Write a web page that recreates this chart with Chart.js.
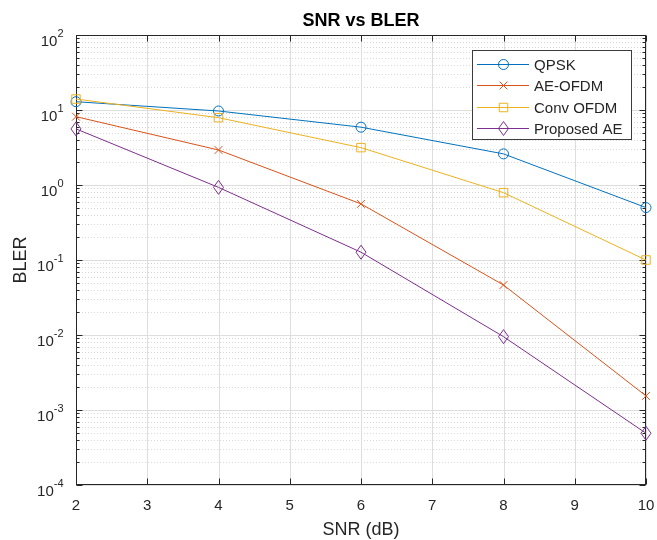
<!DOCTYPE html>
<html>
<head>
<meta charset="utf-8">
<title>SNR vs BLER</title>
<script src="https://cdn.jsdelivr.net/npm/chart.js@4.4.0/dist/chart.umd.min.js"></script>
<style>
  html, body { margin: 0; padding: 0; background: #fff; }
  #wrap { width: 657px; height: 540px; }
</style>
</head>
<body>
<div id="wrap"><canvas id="bler-chart" width="657" height="540"></canvas></div>
<script>
const snr = [2, 4, 6, 8, 10];
const qpsk = [12.9, 9.7, 5.9, 2.6, 0.50];
const aeOfdm = [8.15, 2.93, 0.56, 0.0464, 0.00154];
const convOfdm = [14.0, 7.9, 3.15, 0.79, 0.10];
const proposedAe = [5.6, 0.93, 0.127, 0.0095, 0.00049];

const xTicks = [2, 3, 4, 5, 6, 7, 8, 9, 10];
const yExponents = [-4, -3, -2, -1, 0, 1, 2];

const FONT = 'Arial, "Liberation Sans", Helvetica, sans-serif';
const AXIS_COLOR = '#262626';

// open diamond, taller than wide, drawn as a path so it stays sharp
function drawDiamond(ctx, x, y, color) {
  ctx.save();
  ctx.strokeStyle = color;
  ctx.lineWidth = 1;
  ctx.beginPath();
  ctx.moveTo(x, y - 7);
  ctx.lineTo(x + 5, y);
  ctx.lineTo(x, y + 7);
  ctx.lineTo(x - 5, y);
  ctx.closePath();
  ctx.stroke();
  ctx.restore();
}

function series(label, values, color, pointStyle, radius, order) {
  return {
    label,
    data: snr.map((x, i) => ({ x, y: values[i] })),
    borderColor: color,
    borderWidth: 1,
    pointStyle,
    pointRadius: radius,
    pointBorderColor: color,
    pointBackgroundColor: 'rgba(0,0,0,0)',
    pointBorderWidth: 1,
    tension: 0,
    clip: false,
    order
  };
}

function crisp(v) {
  return Math.round(v) + 0.5;
}

function drawMarker(ctx, ds, x, y) {
  if (ds.pointStyle === 'diamond') {
    drawDiamond(ctx, x, y, ds.borderColor);
    return;
  }
  ctx.save();
  ctx.strokeStyle = ds.borderColor;
  ctx.fillStyle = 'rgba(0,0,0,0)';
  ctx.lineWidth = 1;
  Chart.helpers.drawPoint(ctx, {
    pointStyle: ds.pointStyle,
    radius: ds.pointRadius,
    borderWidth: 1,
    rotation: 0
  }, x, y);
  ctx.restore();
}

const matlabAxes = {
  id: 'matlabAxes',
  beforeDatasetsDraw(chart) {
    const { ctx, chartArea: a } = chart;
    const xs = chart.scales.x;
    const ys = chart.scales.y;
    ctx.save();
    ctx.lineWidth = 1;

    // minor grid on the log axis
    ctx.strokeStyle = '#d6d6d6';
    ctx.setLineDash([1, 2]);
    for (let e = yExponents[0]; e < yExponents[yExponents.length - 1]; e++) {
      for (let m = 2; m <= 9; m++) {
        const y = crisp(ys.getPixelForValue(m * Math.pow(10, e)));
        ctx.beginPath();
        ctx.moveTo(a.left, y);
        ctx.lineTo(a.right, y);
        ctx.stroke();
      }
    }
    ctx.setLineDash([]);

    // major grid
    ctx.strokeStyle = '#dedede';
    yExponents.forEach(e => {
      const y = crisp(ys.getPixelForValue(Math.pow(10, e)));
      ctx.beginPath();
      ctx.moveTo(a.left, y);
      ctx.lineTo(a.right, y);
      ctx.stroke();
    });
    xTicks.forEach(t => {
      const x = crisp(xs.getPixelForValue(t));
      ctx.beginPath();
      ctx.moveTo(x, a.top);
      ctx.lineTo(x, a.bottom);
      ctx.stroke();
    });

    // box and ticks
    ctx.strokeStyle = AXIS_COLOR;
    const l = crisp(a.left), r = crisp(a.right) - 1, t = crisp(a.top), b = crisp(a.bottom) - 1;
    ctx.strokeRect(l, t, r - l, b - t);
    ctx.beginPath();
    xTicks.forEach(v => {
      const x = crisp(xs.getPixelForValue(v));
      ctx.moveTo(x, b); ctx.lineTo(x, b - 6);
      ctx.moveTo(x, t); ctx.lineTo(x, t + 6);
    });
    yExponents.forEach(e => {
      const y = crisp(ys.getPixelForValue(Math.pow(10, e)));
      ctx.moveTo(l, y); ctx.lineTo(l + 6, y);
      ctx.moveTo(r, y); ctx.lineTo(r - 6, y);
      if (e === yExponents[yExponents.length - 1]) return;
      for (let m = 2; m <= 9; m++) {
        const ym = crisp(ys.getPixelForValue(m * Math.pow(10, e)));
        ctx.moveTo(l, ym); ctx.lineTo(l + 3, ym);
        ctx.moveTo(r, ym); ctx.lineTo(r - 3, ym);
      }
    });
    ctx.stroke();
    ctx.restore();
  },
  afterDatasetsDraw(chart) {
    // diamond markers placed on the points the line controller laid out
    chart.data.datasets.forEach((ds, i) => {
      if (ds.pointStyle !== 'diamond') return;
      chart.getDatasetMeta(i).data.forEach(pt => drawDiamond(chart.ctx, pt.x, pt.y, ds.borderColor));
    });
  },
  afterDraw(chart) {
    const { ctx, chartArea: a } = chart;
    const xs = chart.scales.x;
    const ys = chart.scales.y;
    ctx.save();
    ctx.fillStyle = AXIS_COLOR;

    // x tick labels
    ctx.font = '15px ' + FONT;
    ctx.textAlign = 'center';
    ctx.textBaseline = 'alphabetic';
    xTicks.forEach(v => {
      ctx.fillText(String(v), xs.getPixelForValue(v), a.bottom + 25);
    });

    // y tick labels as 10 with a raised exponent
    const right = a.left - 12.5;
    yExponents.forEach(e => {
      const y = ys.getPixelForValue(Math.pow(10, e));
      const exp = String(e);
      ctx.font = '11px ' + FONT;
      const ew = ctx.measureText(exp).width;
      ctx.textAlign = 'left';
      ctx.fillText(exp, right - ew, y + 2);
      ctx.font = '15px ' + FONT;
      ctx.textAlign = 'right';
      ctx.fillText('10', right - ew, y + 10.5);
    });

    // axis labels and title
    const cx = (a.left + a.right) / 2;
    ctx.textAlign = 'center';
    ctx.font = '18px ' + FONT;
    ctx.fillText('SNR (dB)', cx, 535);
    ctx.save();
    ctx.translate(26, (a.top + a.bottom) / 2);
    ctx.rotate(-Math.PI / 2);
    ctx.fillText('BLER', 0, 0);
    ctx.restore();
    ctx.fillStyle = '#000';
    ctx.font = 'bold 18px ' + FONT;
    ctx.fillText('SNR vs BLER', cx, 26);

    // legend box
    const box = { x: 472.5, y: 50.5, w: 159, h: 89 };
    ctx.fillStyle = '#fff';
    ctx.fillRect(box.x, box.y, box.w, box.h);
    ctx.strokeStyle = '#3c3c3c';
    ctx.lineWidth = 1;
    ctx.strokeRect(box.x, box.y, box.w, box.h);
    ctx.font = '15px ' + FONT;
    ctx.textAlign = 'left';
    ctx.textBaseline = 'middle';
    const rowY = [64.5, 85.5, 107.5, 128.5];
    chart.data.datasets.forEach((ds, i) => {
      const y = rowY[i];
      ctx.strokeStyle = ds.borderColor;
      ctx.beginPath();
      ctx.moveTo(477, y);
      ctx.lineTo(529, y);
      ctx.stroke();
      drawMarker(ctx, ds, 503.5, y);
      ctx.fillStyle = AXIS_COLOR;
      ctx.fillText(ds.label, 534, y + 1);
    });
    ctx.restore();
  }
};

const chart = new Chart(document.getElementById('bler-chart').getContext('2d'), {
  type: 'line',
  data: {
    datasets: [
      series('QPSK', qpsk, '#0072BD', 'circle', 5, 4),
      series('AE-OFDM', aeOfdm, '#D95319', 'crossRot', 5.5, 3),
      series('Conv OFDM', convOfdm, '#EDB120', 'rect', 6, 2),
      // radius 0: the diamonds are stroked by the plugin above
      series('Proposed AE', proposedAe, '#7E2F8E', 'diamond', 0, 1)
    ]
  },
  options: {
    responsive: false,
    animation: false,
    layout: { padding: { left: 76, right: 11, top: 35, bottom: 55 } },
    plugins: {
      legend: { display: false },
      title: { display: false },
      tooltip: { enabled: false }
    },
    scales: {
      x: { type: 'linear', min: 2, max: 10, display: false },
      y: { type: 'logarithmic', min: 1e-4, max: 100, display: false }
    }
  },
  plugins: [matlabAxes]
});
</script>
</body>
</html>
